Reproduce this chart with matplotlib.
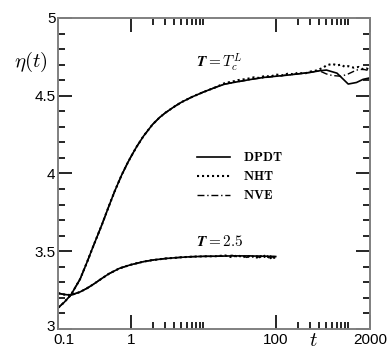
import matplotlib
matplotlib.use("Agg")
import matplotlib.pyplot as plt
from matplotlib.ticker import FixedLocator, NullFormatter
from matplotlib.transforms import ScaledTranslation

plt.rcParams['mathtext.fontset'] = 'cm'
plt.rcParams['font.family'] = ['Liberation Sans', 'DejaVu Sans']

# upper curve (T = Tc^L): common early part, the three runs agree here
t_hi = [0.1, 0.12, 0.15, 0.2, 0.25, 0.3, 0.4, 0.5, 0.6, 0.75, 0.9, 1, 1.2, 1.5, 2,
        2.5, 3, 4, 5, 7, 10, 15]
eta_hi = [3.137, 3.170, 3.220, 3.320, 3.430, 3.525, 3.670, 3.790, 3.885, 3.990, 4.065,
          4.105, 4.170, 4.240, 4.315, 4.360, 4.390, 4.430, 4.458, 4.492, 4.523, 4.555]

# late-time parts of each run
t_dpdt_tail = [20, 30, 50, 70, 100, 150, 200, 300, 400, 500, 700, 1000, 1300, 1600, 2000]
dpdt_tail = [4.575, 4.59, 4.608, 4.618, 4.625, 4.633, 4.64, 4.65, 4.66, 4.665, 4.645,
             4.575, 4.585, 4.605, 4.615]
t_nht_tail = [20, 25, 30, 40, 50, 60, 70, 85, 100, 120, 150, 180, 200, 250, 300, 350,
              400, 450, 500, 550, 600, 700, 800, 900, 1000, 1200, 1400, 1600, 1800, 2000]
nht_tail = [4.582, 4.59, 4.60, 4.608, 4.618, 4.614, 4.628, 4.622, 4.637, 4.63, 4.643,
            4.636, 4.648, 4.642, 4.655, 4.66, 4.67, 4.68, 4.695, 4.70, 4.705, 4.695,
            4.70, 4.685, 4.69, 4.68, 4.685, 4.67, 4.675, 4.665]
t_nve_tail = [20, 50, 100, 200, 300, 400, 500, 600, 800, 1000, 1300, 1600, 2000]
nve_tail = [4.575, 4.608, 4.625, 4.64, 4.65, 4.66, 4.64, 4.63, 4.625, 4.64, 4.665,
            4.67, 4.66]

# lower curve (T = 2.5)
t_lo = [0.1, 0.12, 0.15, 0.2, 0.25, 0.3, 0.4, 0.5, 0.7, 1, 1.5, 2, 3, 5, 7, 10, 15]
eta_lo = [3.230, 3.222, 3.218, 3.238, 3.262, 3.285, 3.325, 3.355, 3.390, 3.413, 3.433,
          3.443, 3.453, 3.461, 3.465, 3.467, 3.468]
t_lo_tail = [20, 25, 30, 35, 40, 45, 50, 55, 60, 65, 70, 75, 80, 85, 90, 95, 100]
dpdt_lo_tail = [3.469, 3.47, 3.47, 3.47, 3.47, 3.47, 3.469, 3.469, 3.469, 3.468,
                3.468, 3.468, 3.467, 3.467, 3.467, 3.467, 3.466]
nht_lo_tail = [3.473, 3.461, 3.475, 3.459, 3.473, 3.457, 3.471, 3.459, 3.474, 3.456,
               3.471, 3.459, 3.473, 3.455, 3.469, 3.457, 3.465]
nve_lo_tail = [3.468, 3.474, 3.463, 3.471, 3.46, 3.473, 3.462, 3.47, 3.459, 3.472,
               3.461, 3.47, 3.458, 3.47, 3.46, 3.468, 3.462]

fig = plt.figure(figsize=(3.92, 3.59), dpi=100)
ax = fig.add_axes([0.1485, 0.0836, 0.7955, 0.8664])

solid = dict(color='black', lw=1.2, linestyle='-')
dotted = dict(color='black', lw=1.5, linestyle=(0, (1, 1.4)))
dashdot = dict(color='black', lw=1.0, linestyle=(0, (5, 2, 1, 2)))

ax.plot(t_hi + t_dpdt_tail, eta_hi + dpdt_tail, label='$\\mathbf{DPDT}$', **solid)
ax.plot(t_hi + t_nht_tail, eta_hi + nht_tail, label='$\\mathbf{NHT}$', **dotted)
ax.plot(t_hi + t_nve_tail, eta_hi + nve_tail, label='$\\mathbf{NVE}$', **dashdot)
ax.plot(t_lo + t_lo_tail, eta_lo + dpdt_lo_tail, **solid)
ax.plot(t_lo + t_lo_tail, eta_lo + nht_lo_tail, **dotted)
ax.plot(t_lo + t_lo_tail, eta_lo + nve_lo_tail, **dashdot)

ax.set_xscale('log')
ax.set_xlim(0.1, 2000)
ax.set_ylim(3, 5)

ax.xaxis.set_major_locator(FixedLocator([0.1, 1, 100, 2000]))
ax.xaxis.set_minor_locator(FixedLocator([2, 3, 4, 5, 6, 7, 8, 9, 10,
                                         200, 300, 400, 500, 600, 700, 800, 900, 1000]))
ax.xaxis.set_minor_formatter(NullFormatter())
ax.set_xticklabels(['0.1', '1', '100', '2000'])
ax.set_yticks([3, 3.5, 4, 4.5, 5])
ax.set_yticklabels(['3', '3.5', '4', '4.5', '5'])
ax.yaxis.set_minor_locator(FixedLocator([3.1, 3.2, 3.3, 3.4, 3.6, 3.7, 3.8, 3.9,
                                         4.1, 4.2, 4.3, 4.4, 4.6, 4.7, 4.8, 4.9]))

ax.tick_params(which='both', direction='in', top=True, right=True,
               color='black', labelsize=11, width=1.2)
ax.tick_params(which='major', length=10)
ax.tick_params(which='minor', length=5)
ax.tick_params(axis='y', pad=2)
ax.tick_params(axis='x', pad=3)

# nudge the "0.1" and "3" labels apart as in the original
xlab = ax.get_xticklabels()
xlab[0].set_transform(xlab[0].get_transform() + ScaledTranslation(6 / 100, 0, fig.dpi_scale_trans))
ylab = ax.get_yticklabels()
ylab[0].set_transform(ylab[0].get_transform() + ScaledTranslation(0, 3 / 100, fig.dpi_scale_trans))

for sp in ax.spines.values():
    sp.set_color('0.5')
    sp.set_linewidth(1.4)

ax.text(-0.087, 0.858, '$\\eta(t)$', transform=ax.transAxes, fontsize=15,
        ha='center', va='center')
ax.text(0.817, -0.037, '$t$', transform=ax.transAxes, fontsize=15,
        ha='center', va='center')

ax.text(8.0, 4.71, '$\\boldsymbol{T = T_c^L}$', fontsize=11, ha='left', va='center')
ax.text(8.0, 3.56, '$\\boldsymbol{T = 2.5}$', fontsize=11, ha='left', va='center')

ax.legend(loc='center left', bbox_to_anchor=(0.445, 0.489), frameon=False,
          borderpad=0, borderaxespad=0, handlelength=2.5, handletextpad=1.0,
          labelspacing=0.45, fontsize=9.5)

fig.savefig('out.png', dpi=100)
